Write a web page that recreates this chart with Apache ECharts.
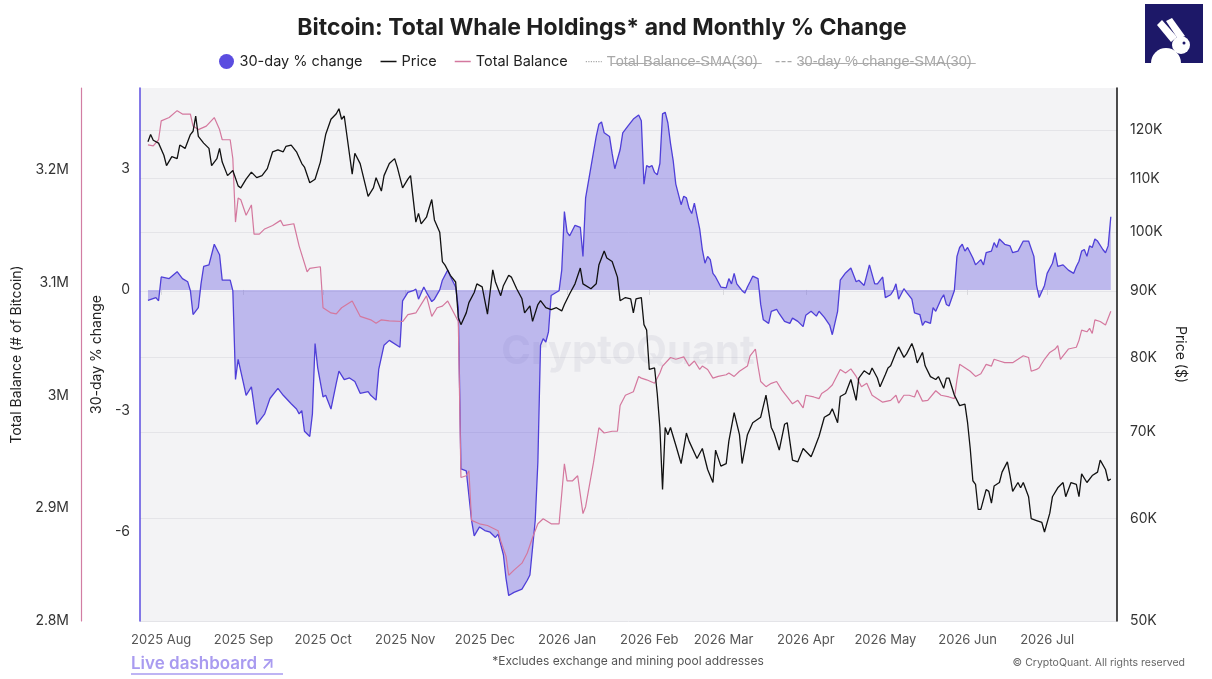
<!DOCTYPE html>
<html>
<head>
<meta charset="utf-8">
<script src="https://cdn.jsdelivr.net/npm/echarts@6/dist/echarts.min.js"></script>
<style>
html,body{margin:0;padding:0;background:#fff;}
#chart{width:1212px;height:679px;}
</style>
</head>
<body>
<div id="chart"></div>
<script>
// Day offsets are counted from 1 Aug 2025
const startYear = 2025, startMonth = 7, startDay = 1;

const priceDays = [-5,-4,-3,-1,1,2,4,6,7,9,11,12,13,14,16,18,19,21,22,23,25,27,29,30,32,34,36,38,40,42,44,46,47,49,51,53,54,56,58,60,62,64,66,67,68,69,72,73,75,78,80,81,83,84,86,88,89,91,93,94,96,97,98,100,101,102,103,105,106,107,109,111,112,113,115,116,118,119,121,123,125,126,128,129,131,132,134,136,137,139,140,142,143,145,147,149,151,152,154,156,158,159,162,164,165,167,168,170,172,173,175,177,178,179,181,182,183,184,186,187,188,189,190,191,192,194,196,198,199,202,204,206,208,209,211,213,214,216,218,219,221,223,226,228,230,231,233,235,236,238,240,242,245,246,248,250,252,253,255,256,258,260,262,263,265,267,268,270,271,273,274,275,277,278,280,281,283,284,285,287,288,290,292,293,295,296,297,299,301,303,304,305,306,307,308,309,311,312,313,314,316,317,319,320,321,323,324,325,327,328,330,332,333,335,336,338,340,341,343,345,346,347,349,351,353,354,356,357,358];
const priceValues = [117500,119000,117800,117200,114700,112600,114400,114000,116800,116100,119000,119700,123000,118600,117200,116100,112600,114000,116100,113300,110600,111600,108600,108200,109900,111300,110200,110600,112000,115400,115800,115400,116500,116800,115400,113000,112300,109200,109900,113300,119000,122300,123500,124600,122300,123000,110900,115100,113000,106600,108200,110200,107600,110600,113000,114000,112300,108200,109900,110600,101800,103400,101500,102700,104400,106000,102200,100000,94900,94300,92600,91500,85900,84800,86600,88200,89800,91200,90700,86400,93500,91500,89300,90900,92600,92300,90400,88800,86600,87700,85300,87900,88500,87400,87100,87400,86900,87900,89600,91200,93800,91200,90400,91200,94300,96700,95500,94900,92300,88500,89000,88800,86600,88800,89000,84800,84000,78300,78500,75000,70600,63200,70600,69700,70600,68400,66200,69900,68900,66800,68000,65500,64000,67800,65900,66200,68900,72500,69700,66200,69700,71200,71900,74800,70600,69900,67800,71000,71200,66600,66400,68000,67000,67800,69500,71900,72300,73000,71200,74600,75000,76900,74100,77100,78100,77600,78500,77100,75900,77600,78500,78800,80700,81500,80000,80500,82000,80900,79200,80700,78800,77300,76900,77300,75700,77100,77100,74800,73400,73600,71200,68000,64200,63800,61000,61000,63200,63000,61700,63600,64000,65200,66400,64800,63000,64000,63400,64000,62400,60000,59800,59600,58600,60600,62400,63400,64000,62400,64000,63800,62400,65000,64000,64800,65200,66600,65500,64200,64400];

const balanceDays = [-5,-3,-1,0,3,6,8,11,12,14,17,20,22,23,26,27,28,29,30,32,34,35,37,39,42,45,46,50,52,55,56,60,61,64,66,68,72,75,79,81,83,86,91,93,96,98,100,102,104,106,108,110,112,113,115,116,117,120,123,127,128,130,131,133,136,138,140,142,144,147,150,152,153,155,157,159,160,163,165,167,170,172,173,175,178,180,181,183,186,188,189,192,194,197,199,201,203,204,206,208,210,213,214,216,218,221,222,224,225,226,228,230,232,234,236,238,240,242,243,246,248,249,251,253,254,256,258,260,262,264,266,268,270,272,275,277,278,280,282,284,285,287,289,292,294,297,299,300,301,303,305,307,309,311,313,314,316,318,321,323,325,327,328,330,331,333,335,337,338,339,340,342,345,346,347,349,350,351,352,354,356,358];
const balanceValues = [3222200,3221300,3226800,3243500,3246500,3252600,3249600,3249600,3238900,3235800,3238900,3246500,3235800,3226800,3226800,3210000,3153800,3175100,3173600,3159800,3169000,3143100,3143100,3147700,3150700,3155300,3150700,3152300,3132500,3109700,3112700,3114200,3077800,3073200,3072300,3077800,3083800,3070200,3067100,3064000,3067100,3066200,3065600,3071700,3073200,3080800,3088400,3070200,3077800,3079300,3083800,3074700,3065600,2927300,2928800,2933300,2889200,2886200,2884700,2880100,2871000,2857300,2840600,2845100,2851300,2860300,2874100,2886200,2890700,2886200,2886200,2939400,2924200,2924200,2928800,2895300,2901400,2940900,2971400,2966700,2968300,2968300,2991100,3000200,3003300,3016900,3015400,3013900,3010800,3020000,3026100,3033700,3032100,3034200,3026100,3030600,3023100,3026100,3023100,3015400,3016900,3018400,3020000,3016900,3021500,3026100,3035200,3041200,3026100,3012400,3007800,3010800,3012400,3004800,2998700,2992600,2995700,2989000,3000200,2998700,2997200,3001800,3004800,3009300,3013900,3023100,3020000,3023600,3016900,3007800,3010800,3000200,2997200,2994100,2995700,3000200,2993300,3000200,3000200,2998700,3004800,2995000,2995700,3004200,3000200,2998700,2997200,3013900,3027600,3024600,3021500,3016900,3019300,3027600,3026100,3032100,3030600,3029100,3029100,3032100,3035200,3033700,3021500,3023100,3024600,3032100,3038200,3041200,3044300,3032100,3035200,3041200,3042800,3048900,3058000,3056500,3059500,3055000,3067100,3065600,3062500,3074700];

const changeDays = [-5,-2,-1,0,3,6,8,10,11,12,14,15,16,18,20,22,23,26,27,28,29,31,32,34,36,39,41,44,46,49,51,52,53,54,56,57,58,59,61,62,64,66,67,69,71,73,75,78,79,81,82,84,86,90,91,93,95,96,97,99,100,102,103,105,106,108,109,111,112,113,115,117,118,120,122,124,126,127,129,130,131,133,136,138,139,141,142,143,144,145,146,147,149,150,151,152,153,154,156,158,159,160,162,164,165,166,167,169,170,171,173,174,176,178,180,181,182,183,184,185,186,187,188,189,190,191,192,193,194,196,197,198,199,200,201,203,204,205,206,207,208,209,211,213,214,215,216,217,219,220,221,222,223,225,226,227,229,230,232,233,235,237,238,240,242,243,245,247,248,250,252,253,255,256,258,260,262,263,265,267,269,270,272,273,275,276,277,278,280,281,283,284,286,287,288,290,291,292,294,295,296,297,299,300,301,302,303,304,306,307,309,310,311,313,314,315,316,318,320,321,323,325,327,329,330,331,333,334,336,337,338,340,342,344,345,346,347,348,349,350,351,352,353,355,356,357,358];
const changeValues = [-0.26,-0.19,-0.27,0.32,0.28,0.45,0.28,0.20,-0.02,-0.61,-0.44,0.15,0.58,0.62,1.13,0.87,0.24,0.24,-0.02,-2.22,-1.72,-2.31,-2.61,-2.40,-3.33,-3.07,-2.69,-2.44,-2.61,-2.82,-2.95,-3.07,-2.99,-3.50,-3.63,-3.07,-1.33,-1.93,-2.65,-2.61,-2.95,-2.31,-2.01,-2.22,-2.18,-2.27,-2.56,-2.52,-2.61,-2.73,-1.97,-1.37,-1.25,-1.42,-0.27,-0.06,-0.02,0.02,-0.23,0.07,-0.06,-0.29,-0.23,0.00,0.24,0.49,0.34,0.07,-0.44,-4.43,-4.48,-5.71,-6.09,-5.87,-5.96,-6.00,-6.13,-6.05,-6.56,-7.15,-7.57,-7.49,-7.41,-7.19,-7.06,-5.71,-4.26,-1.37,-1.21,-1.29,-1.04,-0.14,-0.06,-0.02,0.49,1.94,1.43,1.34,1.60,1.55,0.83,2.28,3.04,3.80,4.10,4.16,3.89,3.80,3.38,3.00,3.47,3.89,4.06,4.23,4.33,4.19,2.62,3.08,3.04,3.08,2.91,2.85,3.13,4.36,4.40,4.14,3.63,3.21,2.62,2.11,2.32,2.28,2.02,1.89,2.15,1.51,1.00,0.66,0.83,0.75,0.41,0.32,0.07,0.05,0.28,0.15,0.41,0.15,-0.02,-0.08,0.07,0.20,0.34,0.28,-0.36,-0.74,-0.83,-0.53,-0.48,-0.59,-0.78,-0.83,-0.70,-0.78,-0.91,-0.63,-0.53,-0.65,-0.53,-0.68,-0.87,-1.11,-0.53,0.24,0.42,0.54,0.20,0.24,0.11,0.62,0.15,0.15,0.32,-0.19,-0.12,-0.02,0.15,-0.23,0.03,-0.06,-0.23,-0.57,-0.61,-0.88,-0.78,-0.83,-0.44,-0.53,-0.23,-0.12,-0.36,-0.40,-0.02,0.83,1.05,1.13,0.96,1.05,0.79,0.62,0.75,0.62,0.92,0.96,1.17,1.05,1.26,1.13,1.09,0.92,0.96,1.21,1.21,0.83,0.11,-0.19,0.11,0.41,0.66,0.92,0.58,0.62,0.49,0.41,0.58,0.71,0.96,1.00,0.83,1.09,1.05,1.26,1.21,1.00,0.92,1.09,1.81];

const priceTicks = [50000,60000,70000,80000,90000,100000,110000,120000];
const balanceTicks = [2800000,2900000,3000000,3100000,3200000];
const changeTicks = [-6,-3,0,3];

const legendNames = ['30-day % change','Price','Total Balance','Total Balance-SMA(30)','30-day % change-SMA(30)'];

function toDate(d){ return new Date(startYear, startMonth, startDay + d).getTime(); }
function pairs(days, vals){ return days.map((d,i)=>[toDate(d), vals[i]]); }
function strike(s){ return Array.from(s).map(c=>c+'\u0336').join(''); }

// legend icon shapes (16 x 15 box, anchored by empty corner points)
const ICON_LINE = 'path://M0 0L0 0ZM0 6.7H16V8.3H0ZM16 15L16 15Z';
const ICON_DOTTED = 'path://M0 0L0 0ZM0 7H1.2V8.2H0ZM2.5 7H3.7V8.2H2.5ZM5 7H6.2V8.2H5ZM7.5 7H8.7V8.2H7.5ZM10 7H11.2V8.2H10ZM12.5 7H13.7V8.2H12.5ZM15 7H16V8.2H15ZM16 15L16 15Z';
const ICON_DASHED = 'path://M0 0L0 0ZM0 6.9H4V8.3H0ZM6 6.9H10V8.3H6ZM12 6.9H16V8.3H12ZM16 15L16 15Z';

const FONT = 'Inter, "Liberation Sans", sans-serif';
const chart = echarts.init(document.getElementById('chart'), null, {renderer:'canvas'});

const option = {
  animation:false,
  backgroundColor:'#ffffff',
  textStyle:{fontFamily:FONT},
  title:{
    text:'Bitcoin: Total Whale Holdings* and Monthly % Change',
    left:597, top:12, textAlign:'center',
    textStyle:{fontSize:23, fontWeight:'bold', color:'#1f1f1f', fontFamily:FONT}
  },
  legend:{
    data:[
      {name:legendNames[0], icon:'circle'},
      {name:legendNames[1], icon:ICON_LINE},
      {name:legendNames[2], icon:ICON_LINE},
      {name:legendNames[3], icon:ICON_DOTTED},
      {name:legendNames[4], icon:ICON_DASHED}
    ],
    selected:{'Total Balance-SMA(30)':false,'30-day % change-SMA(30)':false},
    left:214, top:49,
    itemWidth:16, itemHeight:15, itemGap:18,
    inactiveColor:'#a8a8a8',
    itemStyle:{borderWidth:0},
    textStyle:{fontSize:14.5, color:'#222', fontFamily:FONT},
    formatter:function(name){
      if(name.indexOf('SMA')>=0) return strike(name);
      return name;
    }
  },
  grid:{left:140, right:95, top:88, bottom:58, show:true, backgroundColor:'#f3f3f5', borderWidth:0},
  xAxis:{
    type:'time',
    min:new Date(2025,6,24).getTime(),
    max:new Date(2026,6,27,8).getTime(),
    minInterval:28*86400000,
    maxInterval:31*86400000,
    axisLine:{show:false},
    axisTick:{show:true, length:5, lineStyle:{color:'#d8d8dc'}},
    splitLine:{show:false},
    axisLabel:{
      color:'#555', fontSize:13, margin:13, fontFamily:FONT,
      formatter:function(v){ return echarts.time.format(v,'{yyyy} {MMM}',false); }
    }
  },
  yAxis:[
    {
      type:'value', position:'left', offset:0,
      min:-8.2, max:5,
      name:'30-day % change', nameLocation:'middle', nameGap:30, nameRotate:90,
      nameTextStyle:{fontSize:14, color:'#222', fontFamily:FONT},
      axisLine:{show:true, lineStyle:{color:'#5b4de0', width:1.5}},
      axisTick:{show:false},
      splitLine:{show:false},
      axisLabel:{customValues:changeTicks, color:'#333', fontSize:14, margin:10, fontFamily:FONT}
    },
    {
      type:'value', position:'left', offset:59,
      min:2800000, max:3272700,
      name:'Total Balance (# of Bitcoin)', nameLocation:'middle', nameGap:51, nameRotate:90,
      nameTextStyle:{fontSize:14, color:'#222', fontFamily:FONT},
      axisLine:{show:true, lineStyle:{color:'#d27ea3', width:1.2}},
      axisTick:{show:false},
      splitLine:{show:false},
      axisLabel:{customValues:balanceTicks, color:'#333', fontSize:14, margin:12, fontFamily:FONT,
        formatter:function(v){ return (+(v/1e6).toFixed(1))+'M'; }}
    },
    {
      type:'log', logBase:10, position:'right',
      min:50000, max:129300,
      name:'Price ($)', nameLocation:'middle', nameGap:49, nameRotate:-90,
      nameTextStyle:{fontSize:14, color:'#222', fontFamily:FONT},
      axisLine:{show:true, lineStyle:{color:'#111', width:1.5}},
      axisTick:{show:false, customValues:priceTicks},
      splitLine:{show:true, lineStyle:{color:'#e4e4e8', width:1}},
      axisLabel:{customValues:priceTicks, color:'#333', fontSize:14, margin:13, fontFamily:FONT,
        formatter:function(v){ return Math.round(v/1000)+'K'; }}
    }
  ],
  series:[
    {
      name:legendNames[0], type:'line', yAxisIndex:0, showSymbol:false, symbol:'none',
      data:pairs(changeDays, changeValues),
      itemStyle:{color:'#5b4de0'},
      lineStyle:{color:'#4f3fd8', width:1.3},
      areaStyle:{color:'rgba(92,77,224,0.5)'},
      z:2
    },
    {
      name:legendNames[1], type:'line', yAxisIndex:2, showSymbol:false, symbol:'none',
      data:pairs(priceDays, priceValues),
      itemStyle:{color:'#111'},
      lineStyle:{color:'#111', width:1.3},
      z:4
    },
    {
      name:legendNames[2], type:'line', yAxisIndex:1, showSymbol:false, symbol:'none',
      data:pairs(balanceDays, balanceValues),
      itemStyle:{color:'#d4789e'},
      lineStyle:{color:'#d4789e', width:1.2},
      z:3
    },
    {
      name:legendNames[3], type:'line', yAxisIndex:1, showSymbol:false, symbol:'none',
      data:[], itemStyle:{color:'#c8c8c8'}, lineStyle:{color:'#c8c8c8', type:'dotted', width:1.5}
    },
    {
      name:legendNames[4], type:'line', yAxisIndex:0, showSymbol:false, symbol:'none',
      data:[], itemStyle:{color:'#666'}, lineStyle:{color:'#666', type:'dashed', width:1.5}
    }
  ],
  graphic:[
    {type:'text', x:628, y:352, z:1, silent:true,
      style:{text:'CryptoQuant', fontSize:40, fontWeight:'bold', fill:'rgba(150,150,170,0.13)', align:'center', verticalAlign:'middle', fontFamily:FONT}},
    {type:'rect', shape:{x:1145, y:4, width:58, height:59}, style:{fill:'#1d1868'}},
    {type:'polygon', shape:{points:[[1157,25],[1162,20],[1177,37],[1171,42]]}, style:{fill:'#fff'}},
    {type:'polygon', shape:{points:[[1166,21],[1172,18],[1185,36],[1178,39]]}, style:{fill:'#fff'}},
    {type:'circle', shape:{cx:1181, cy:45, r:9}, style:{fill:'#fff'}},
    {type:'sector', shape:{cx:1166, cy:63, r0:0, r:15, startAngle:Math.PI, endAngle:Math.PI*2}, style:{fill:'#fff'}},
    {type:'circle', shape:{cx:1184, cy:43, r:1.5}, style:{fill:'#1d1868'}},
    {type:'text', x:131, y:664, style:{text:'Live dashboard \u2197', fontSize:17, fontWeight:600, fill:'#a99bf0', verticalAlign:'middle', fontFamily:FONT}},
    {type:'line', shape:{x1:131, y1:674, x2:283, y2:674}, style:{stroke:'#a99bf0', lineWidth:1.5}},
    {type:'text', x:628, y:661, style:{text:'*Excludes exchange and mining pool addresses', fontSize:12, fill:'#555', align:'center', verticalAlign:'middle', fontFamily:FONT}},
    {type:'text', x:1185, y:663, style:{text:'\u00a9 CryptoQuant. All rights reserved', fontSize:10.5, fill:'#666', align:'right', verticalAlign:'middle', fontFamily:FONT}}
  ]
};
chart.setOption(option);
</script>
</body>
</html>
